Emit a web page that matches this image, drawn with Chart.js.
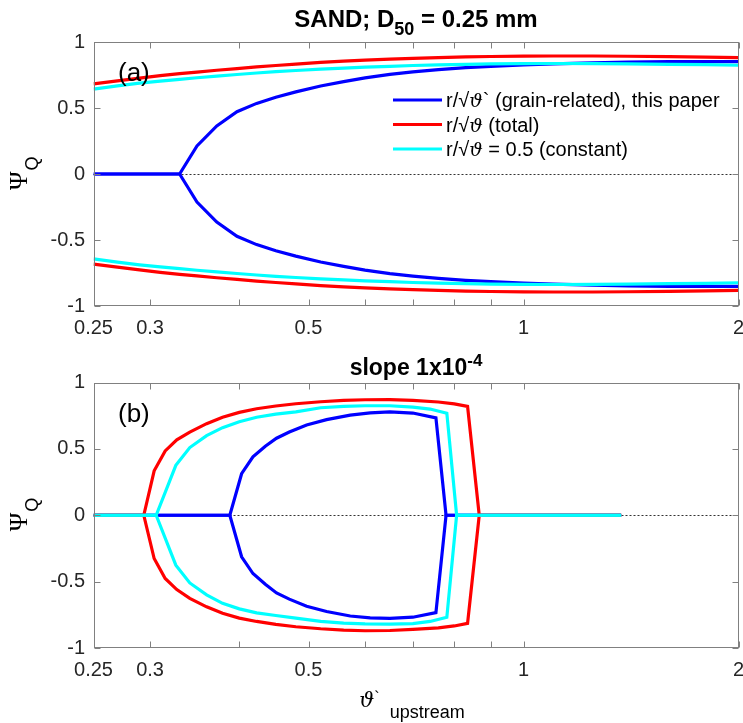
<!DOCTYPE html>
<html>
<head>
<meta charset="utf-8">
<script src="https://cdn.jsdelivr.net/npm/chart.js@4.4.1/dist/chart.umd.min.js"></script>
<style>
  html, body { margin: 0; padding: 0; background: #fff; }
  #wrap { position: relative; width: 743px; height: 723px; overflow: hidden; }
  canvas { position: absolute; left: 0; }
</style>
</head>
<body>
<div id="wrap">
  <canvas id="chartA" width="743" height="345" style="top:0"></canvas>
  <canvas id="chartB" width="743" height="378" style="top:345px"></canvas>
</div>
<script>
// axis ticks (log x, linear y)
const xTicks = [0.25, 0.3, 0.4, 0.5, 0.6, 0.7, 0.8, 0.9, 1, 2];
const xTickLabels = ['0.25', '0.3', '', '0.5', '', '', '', '', '1', '2'];
const yTicks = [-1, -0.5, 0, 0.5, 1];
const yTickLabels = ['-1', '-0.5', '0', '0.5', '1'];

// (a) SAND, D50 = 0.25 mm
const thetaA = [0.25, 0.27, 0.29, 0.31, 0.33, 0.349, 0.372, 0.397, 0.423, 0.45, 0.48, 0.52, 0.56, 0.6, 0.65, 0.7, 0.76, 0.83, 0.9, 1.0, 1.1, 1.25, 1.4, 1.6, 1.8, 2.0];
const aBlueUp  = [0, 0, 0, 0, 0, 0.213, 0.364, 0.472, 0.535, 0.582, 0.622, 0.667, 0.700, 0.728, 0.755, 0.774, 0.791, 0.806, 0.816, 0.826, 0.834, 0.842, 0.848, 0.851, 0.852, 0.851];
const aBlueLow = [0, 0, 0, 0, 0, -0.213, -0.364, -0.472, -0.535, -0.582, -0.622, -0.667, -0.700, -0.728, -0.755, -0.774, -0.791, -0.806, -0.816, -0.826, -0.834, -0.842, -0.848, -0.851, -0.852, -0.851];
const aRedUp   = [0.683, 0.705, 0.726, 0.745, 0.760, 0.772, 0.786, 0.799, 0.811, 0.822, 0.833, 0.845, 0.855, 0.863, 0.870, 0.876, 0.882, 0.887, 0.890, 0.893, 0.894, 0.894, 0.892, 0.889, 0.886, 0.882];
const aRedLow  = [-0.683, -0.705, -0.726, -0.745, -0.760, -0.772, -0.786, -0.799, -0.811, -0.822, -0.833, -0.845, -0.855, -0.863, -0.870, -0.876, -0.882, -0.887, -0.890, -0.893, -0.894, -0.894, -0.892, -0.889, -0.886, -0.882];
const aCyanUp  = [0.643, 0.668, 0.688, 0.704, 0.717, 0.729, 0.742, 0.754, 0.765, 0.775, 0.784, 0.794, 0.802, 0.809, 0.816, 0.822, 0.827, 0.831, 0.834, 0.836, 0.837, 0.836, 0.834, 0.831, 0.828, 0.824];
const aCyanLow = [-0.643, -0.668, -0.688, -0.704, -0.717, -0.729, -0.742, -0.754, -0.765, -0.775, -0.784, -0.794, -0.802, -0.809, -0.816, -0.822, -0.827, -0.831, -0.834, -0.836, -0.837, -0.836, -0.834, -0.831, -0.828, -0.824];

// (b) slope 1e-4
const bBlueX   = [0.25, 0.388, 0.403, 0.418, 0.435, 0.451, 0.47, 0.497, 0.53, 0.572, 0.61, 0.65, 0.70, 0.754, 0.779, 1.37];
const bBlueUp  = [0, 0, 0.313, 0.44, 0.52, 0.58, 0.627, 0.68, 0.72, 0.754, 0.771, 0.778, 0.77, 0.734, 0, 0];
const bBlueLow = [0, 0, -0.313, -0.439, -0.52, -0.585, -0.632, -0.685, -0.725, -0.759, -0.773, -0.777, -0.768, -0.734, 0, 0];
const bRedX    = [0.25, 0.294, 0.304, 0.315, 0.327, 0.341, 0.36, 0.379, 0.40, 0.423, 0.45, 0.48, 0.52, 0.56, 0.60, 0.65, 0.70, 0.76, 0.80, 0.835, 0.867, 1.37];
const bRedUp   = [0, 0, 0.335, 0.485, 0.568, 0.626, 0.69, 0.738, 0.775, 0.802, 0.823, 0.840, 0.855, 0.865, 0.870, 0.871, 0.866, 0.853, 0.839, 0.82, 0, 0];
const bRedLow  = [0, 0, -0.326, -0.476, -0.56, -0.626, -0.69, -0.739, -0.775, -0.80, -0.822, -0.84, -0.855, -0.865, -0.87, -0.868, -0.86, -0.848, -0.834, -0.814, 0, 0];
const bCyanX   = [0.25, 0.306, 0.326, 0.341, 0.36, 0.379, 0.40, 0.423, 0.45, 0.48, 0.52, 0.56, 0.60, 0.65, 0.70, 0.74, 0.781, 0.806, 1.37];
const bCyanUp  = [0, 0, 0.376, 0.51, 0.60, 0.66, 0.705, 0.738, 0.762, 0.779, 0.81, 0.82, 0.825, 0.825, 0.815, 0.80, 0.769, 0, 0];
const bCyanLow = [0, 0, -0.376, -0.51, -0.60, -0.664, -0.705, -0.735, -0.755, -0.775, -0.80, -0.812, -0.818, -0.82, -0.816, -0.80, -0.769, 0, 0];

const BLUE = '#0000ff', RED = '#ff0000', CYAN = '#00ffff';
const SANS = '"Liberation Sans", Arial, sans-serif';
const SERIF = '"DejaVu Serif", "Liberation Serif", serif';

const legendRows = [
  { color: BLUE, after: '` (grain-related), this paper' },
  { color: RED, after: ' (total)' },
  { color: CYAN, after: ' = 0.5 (constant)' }
];

function pts(xs, ys) {
  return xs.map((x, i) => ({ x: x, y: ys[i] }));
}

function line(xs, ys, color, order) {
  return {
    data: pts(xs, ys),
    borderColor: color,
    borderWidth: 3.2,
    pointRadius: 0,
    tension: 0,
    fill: false,
    order: order
  };
}

// draw a row of text pieces with different fonts / offsets
function drawRuns(ctx, x, y, runs, align) {
  let w = 0;
  runs.forEach(r => { ctx.font = r[1]; w += ctx.measureText(r[0]).width; });
  let cx = align === 'center' ? x - w / 2 : x;
  runs.forEach(r => {
    ctx.font = r[1];
    ctx.fillText(r[0], cx, y + (r[2] || 0));
    cx += ctx.measureText(r[0]).width;
  });
}

// box, inward ticks, zero line and the annotations
function framePlugin(cfg) {
  return {
    id: 'frame',
    beforeDatasetsDraw(chart) {
      const { ctx, chartArea: a, scales: { y } } = chart;
      const y0 = Math.round(y.getPixelForValue(0)) + 0.5;
      ctx.save();
      ctx.strokeStyle = '#333';
      ctx.lineWidth = 1;
      ctx.setLineDash([2, 2]);
      ctx.beginPath();
      ctx.moveTo(a.left, y0);
      ctx.lineTo(a.right, y0);
      ctx.stroke();
      ctx.restore();
    },
    afterDatasetsDraw(chart) {
      const { ctx, chartArea: a, scales: { x, y } } = chart;
      const L = Math.round(a.left) + 0.5, R = Math.round(a.right) - 0.5;
      const T = Math.round(a.top) + 0.5, B = Math.round(a.bottom) - 0.5;
      ctx.save();
      ctx.strokeStyle = '#808080';
      ctx.lineWidth = 1;
      ctx.strokeRect(L, T, R - L, B - T);
      ctx.beginPath();
      xTicks.forEach(v => {
        const px = Math.round(x.getPixelForValue(v)) + 0.5;
        ctx.moveTo(px, B); ctx.lineTo(px, B - 6);
        ctx.moveTo(px, T); ctx.lineTo(px, T + 6);
      });
      yTicks.forEach(v => {
        const py = Math.round(y.getPixelForValue(v)) + 0.5;
        ctx.moveTo(L, py); ctx.lineTo(L + 6, py);
        ctx.moveTo(R, py); ctx.lineTo(R - 6, py);
      });
      ctx.stroke();
      ctx.restore();
    },
    afterDraw(chart) {
      const { ctx, chartArea: a, scales: { y } } = chart;
      const cx = (a.left + a.right) / 2;
      const y0 = y.getPixelForValue(0);
      ctx.save();
      ctx.fillStyle = '#000';
      ctx.textBaseline = 'alphabetic';
      ctx.textAlign = 'left';

      drawRuns(ctx, cx, cfg.titleY, cfg.title, 'center');

      ctx.font = '26px ' + SANS;
      ctx.fillText(cfg.panel, 118, a.top + 39);

      // y label: Psi with subscript Q
      ctx.save();
      ctx.translate(26.5, y0 + 16);
      ctx.rotate(-Math.PI / 2);
      ctx.font = '25px "Liberation Serif", serif';
      ctx.fillText('\u03A8', 0, 0);
      const wPsi = ctx.measureText('\u03A8').width;
      ctx.font = '18px ' + SANS;
      ctx.fillText('Q', wPsi + 1, 11);
      ctx.restore();

      if (cfg.legend) {
        legendRows.forEach((row, i) => {
          const ly = 100 + i * 24.5;
          ctx.strokeStyle = row.color;
          ctx.lineWidth = 3.2;
          ctx.beginPath();
          ctx.moveTo(393, ly);
          ctx.lineTo(442, ly);
          ctx.stroke();
          drawRuns(ctx, 446, ly + 7, [
            ['r/\u221A', '20px ' + SANS],
            ['\u03D1', 'italic 19px ' + SERIF],
            [row.after, '20px ' + SANS]
          ], 'left');
        });
      }

      if (cfg.xlabel) {
        drawRuns(ctx, 412, 707 - 345, [
          ['\u03D1', 'italic 21px ' + SERIF],
          ['`', '16px ' + SANS, -4],
          ['  upstream', '18px ' + SANS, 11]
        ], 'center');
      }
      ctx.restore();
    }
  };
}

function makeOptions(padTop, axisH) {
  return {
    responsive: false,
    animation: false,
    layout: { padding: { top: padTop, right: 4.5, left: 0, bottom: 0 } },
    plugins: { legend: { display: false }, tooltip: { enabled: false } },
    scales: {
      x: {
        type: 'logarithmic',
        min: 0.25,
        max: 2,
        grid: { display: false, drawTicks: false },
        border: { display: false },
        afterBuildTicks: s => { s.ticks = xTicks.map(v => ({ value: v })); },
        afterFit: s => { s.height = axisH; s.paddingLeft = 0; s.paddingRight = 0; },
        ticks: {
          autoSkip: false, maxRotation: 0, minRotation: 0, padding: 10,
          color: '#262626', font: { family: SANS, size: 20 },
          callback: (v, i) => xTickLabels[i]
        }
      },
      y: {
        type: 'linear',
        min: -1,
        max: 1,
        grid: { display: false, drawTicks: false },
        border: { display: false },
        afterBuildTicks: s => { s.ticks = yTicks.map(v => ({ value: v })); },
        afterFit: s => { s.width = 93.5; },
        ticks: {
          padding: 8.5,
          color: '#262626', font: { family: SANS, size: 20 },
          callback: (v, i) => yTickLabels[i]
        }
      }
    }
  };
}

new Chart(document.getElementById('chartA'), {
  type: 'line',
  data: {
    datasets: [
      line(thetaA, aBlueUp, BLUE, 3), line(thetaA, aBlueLow, BLUE, 3),
      line(thetaA, aRedUp, RED, 2), line(thetaA, aRedLow, RED, 2),
      line(thetaA, aCyanUp, CYAN, 1), line(thetaA, aCyanLow, CYAN, 1)
    ]
  },
  options: makeOptions(42, 39),
  plugins: [framePlugin({
    title: [['SAND; D', 'bold 24px ' + SANS], ['50', 'bold 18px ' + SANS, 8], [' = 0.25 mm', 'bold 24px ' + SANS]],
    titleY: 27,
    panel: '(a)',
    legend: true
  })]
});

new Chart(document.getElementById('chartB'), {
  type: 'line',
  data: {
    datasets: [
      line(bBlueX, bBlueUp, BLUE, 3), line(bBlueX, bBlueLow, BLUE, 3),
      line(bRedX, bRedUp, RED, 2), line(bRedX, bRedLow, RED, 2),
      line(bCyanX, bCyanUp, CYAN, 1), line(bCyanX, bCyanLow, CYAN, 1)
    ]
  },
  options: makeOptions(37.5, 75),
  plugins: [framePlugin({
    title: [['slope 1x10', 'bold 23px ' + SANS], ['-4', 'bold 17px ' + SANS, -9]],
    titleY: 375 - 345,
    panel: '(b)',
    xlabel: true
  })]
});
</script>
</body>
</html>
